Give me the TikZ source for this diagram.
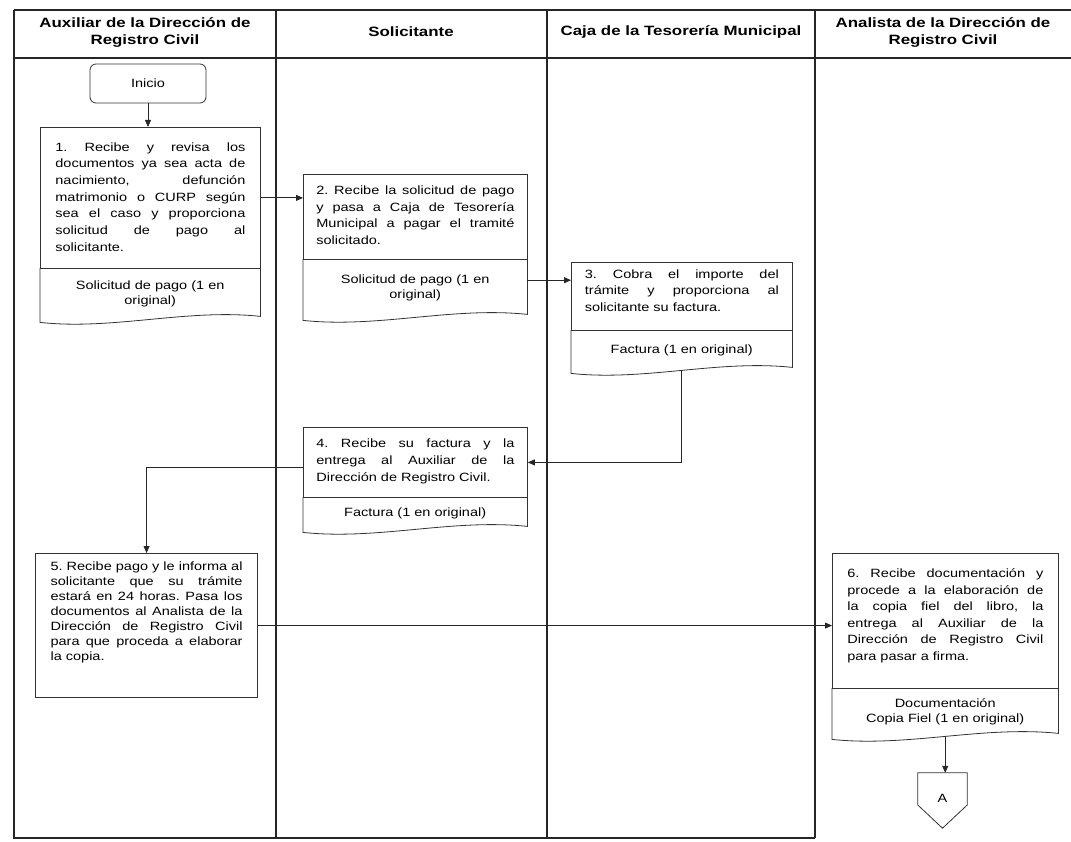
\documentclass[tikz,border=0pt]{standalone}
\usepackage{fontspec}
\setmainfont{Liberation Sans}
\newfontfamily\bodyfont{Liberation Sans}[FakeStretch=1.21]
\newfontfamily\headfont{Liberation Sans}[FakeStretch=1.25]
\usetikzlibrary{arrows.meta,calc,shapes.geometric}
\frenchspacing

% justified body text of a process box
% #1 box height, #2 text width, #3 top gap, #4 line spacing, #5 text
\newcommand{\boxtext}[5]{\parbox[c][#1][t]{#2}{\vspace*{#3}\bodyfont\fontsize{12}{#4}\selectfont\strut #5\par}}

\tikzset{
  lane/.style={draw=black!85, line width=1.3pt},
  stepbox/.style={draw=black!80, line width=0.8pt, fill=white, inner sep=0pt, anchor=north west},
  docpart/.style={align=center, inner sep=0pt, anchor=north west,
    font=\bodyfont\fontsize{12}{15}\selectfont},
  docedge/.style={draw=black!80, line width=0.8pt},
  startbox/.style={draw=black!80, line width=0.8pt, rounded corners=6pt,
    minimum width=116pt, minimum height=39pt, font=\bodyfont\fontsize{12}{15}\selectfont},
  header/.style={align=center, font=\headfont\bfseries\fontsize{13.5}{17}\selectfont},
  flow/.style={draw=black!85, line width=0.8pt, -{Triangle[length=7pt,width=6pt]}}
}

\begin{document}
\begin{tikzpicture}[x=1pt,y=-1pt]
\useasboundingbox (0,0) rectangle (1071,842);
\fill[white] (0,0) rectangle (1071,842);

% swimlane grid
\draw[lane] (14,10) -- (1071,10);
\draw[lane] (14,58) -- (1071,58);
\draw[lane] (14,10) -- (14,838) -- (815,838);
\draw[lane] (276,10) -- (276,838);
\draw[lane] (547,10) -- (547,838);
\draw[lane] (815,10) -- (815,838);

% lane headers
\node[header] (h1) at (145,32) {Auxiliar de la Dirección de\\Registro Civil};
\node[header] (h2) at (411,32) {Solicitante};
\node[header] (h3) at (681,32) {Caja de la Tesorería Municipal};
\node[header] (h4) at (943,32) {Analista de la Dirección de\\Registro Civil};

% start
\node[startbox] (ini) at (148,83.5) {Inicio};

% step 1
\node[stepbox, minimum width=220pt, minimum height=141pt] (s1) at (40,127)
  {\boxtext{141pt}{190pt}{12pt}{16.7}{1. Recibe y revisa los\linebreak documentos ya sea acta de\linebreak nacimiento, defunción\linebreak matrimonio o CURP según\linebreak sea el caso y proporciona\linebreak solicitud de pago al\linebreak solicitante.}};
\node[docpart, minimum width=220pt, minimum height=51pt] (d1) at (40,268) {Solicitud de pago (1 en\\original)};
\draw[docedge] (d1.north west) -- ($(d1.south west)+(0,3)$)
  .. controls +(73,8) and +(-73,-8) .. ($(d1.south east)+(0,-3)$) -- (d1.north east);

% step 2
\node[stepbox, minimum width=224pt, minimum height=85pt] (s2) at (303,174)
  {\boxtext{85pt}{198pt}{9pt}{16.4}{2. Recibe la solicitud de pago\linebreak y pasa a Caja de Tesorería\linebreak Municipal a pagar el tramité\linebreak solicitado.}};
\node[docpart, minimum width=224pt, minimum height=58pt] (d2) at (303,259) {Solicitud de pago (1 en\\original)};
\draw[docedge] (d2.north west) -- ($(d2.south west)+(0,3)$)
  .. controls +(75,8) and +(-75,-8) .. ($(d2.south east)+(0,-3)$) -- (d2.north east);

% step 3
\node[stepbox, minimum width=221pt, minimum height=68pt] (s3) at (571,262)
  {\boxtext{68pt}{194pt}{4pt}{16.8}{3. Cobra el importe del\linebreak trámite y proporciona al\linebreak solicitante su factura.}};
\node[docpart, minimum width=221pt, minimum height=40pt] (d3) at (571,330) {Factura (1 en original)};
\draw[docedge] (d3.north west) -- ($(d3.south west)+(0,3)$)
  .. controls +(74,8) and +(-74,-8) .. ($(d3.south east)+(0,-3)$) -- (d3.north east);

% step 4
\node[stepbox, minimum width=224pt, minimum height=70pt] (s4) at (303,427)
  {\boxtext{70pt}{198pt}{8pt}{17}{4. Recibe su factura y la\linebreak entrega al Auxiliar de la\linebreak Dirección de Registro Civil.}};
\node[docpart, minimum width=224pt, minimum height=32pt] (d4) at (303,497) {Factura (1 en original)};
\draw[docedge] (d4.north west) -- ($(d4.south west)+(0,3)$)
  .. controls +(75,8) and +(-75,-8) .. ($(d4.south east)+(0,-3)$) -- (d4.north east);

% step 5
\node[stepbox, line width=1.1pt, minimum width=222pt, minimum height=144pt] (s5) at (35,553)
  {\boxtext{144pt}{192pt}{6pt}{15}{5. Recibe pago y le informa al\linebreak solicitante que su trámite\linebreak estará en 24 horas. Pasa los\linebreak documentos al Analista de la\linebreak Dirección de Registro Civil\linebreak para que proceda a elaborar\linebreak la copia.}};

% step 6
\node[stepbox, minimum width=226pt, minimum height=135pt] (s6) at (832,553)
  {\boxtext{135pt}{196pt}{13pt}{16.5}{6. Recibe documentación y\linebreak procede a la elaboración de\linebreak la copia fiel del libro, la\linebreak entrega al Auxiliar de la\linebreak Dirección de Registro Civil\linebreak para pasar a firma.}};
\node[docpart, minimum width=226pt, minimum height=48pt] (d6) at (832,688) {Documentación\\Copia Fiel (1 en original)};
\draw[docedge] (d6.north west) -- ($(d6.south west)+(0,3)$)
  .. controls +(75,8) and +(-75,-8) .. ($(d6.south east)+(0,-3)$) -- (d6.north east);

% off-page connector
\node[minimum width=49pt, minimum height=55pt, inner sep=0pt,
  font=\bodyfont\fontsize{12}{15}\selectfont] (offA) at (942.5,800.5) {\raisebox{4pt}{A}};
\draw[docedge] (offA.north west) -- (offA.north east) -- ($(offA.east)+(0,4.5)$)
  -- (offA.south) -- ($(offA.west)+(0,4.5)$) -- cycle;

% flow
\draw[flow] (ini.south) -- (ini.south |- s1.north);
\draw[flow] (s1.east) -- (s1.east -| s2.west);
\draw[flow] ($(d2.east)+(0,-8)$) -- ($(d2.east -| s3.west)+(0,-8)$);
\draw[flow] (d3.south) |- (s4.east);
\draw[flow] ($(s4.west)+(0,5)$) -| (s5.north);
\draw[flow] (s5.east) -- (s5.east -| s6.west);
\draw[flow] (d6.south) -- (d6.south |- offA.north);
\end{tikzpicture}
\end{document}
